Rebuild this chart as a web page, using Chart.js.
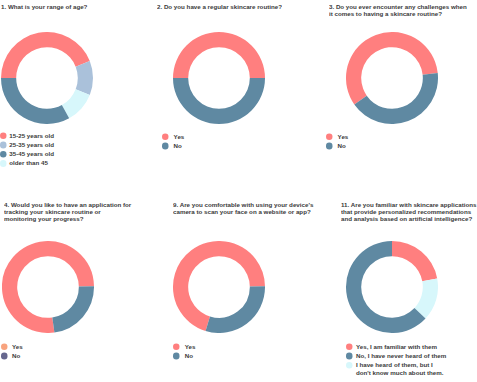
<!DOCTYPE html>
<html>
<head>
<meta charset="utf-8">
<script src="https://cdn.jsdelivr.net/npm/chart.js@4"></script>
<style>
  body { margin: 0; background: #fff; }
  #wrap { position: relative; width: 477px; height: 382px; overflow: hidden; }
  /* text is laid out at 2x and scaled down so the small size stays fractional */
  .title, .legend { position: absolute; font-family: "Liberation Sans", Arial, sans-serif; font-weight: bold; font-size: 12.4px; color: #3a3a3a; white-space: nowrap; transform: scale(0.5); transform-origin: 0 0; }
  .title { line-height: 14.6px; }
  .legend .item { position: relative; line-height: 15.4px; margin-bottom: 3px; }
  .legend .dot { position: absolute; top: 1px; left: 0; width: 13.4px; height: 13.4px; border-radius: 50%; }
  canvas { position: absolute; }
</style>
</head>
<body>
<div id="wrap"></div>
<script>
const red = '#ff7f7f';
const steel = '#5f89a2';
const paleBlue = '#aac1da';
const paleCyan = '#d7f7fb';

// question titles, one entry per line
const titleAge = ['1. What is your range of age?'];
const titleRoutine = ['2. Do you have a regular skincare routine?'];
const titleChallenges = ['3. Do you ever encounter any challenges when', 'it comes to having a skincare routine?'];
const titleApp = ['4. Would you like to have an application for', 'tracking your skincare routine or', 'monitoring your progress?'];
const titleCamera = ["9. Are you comfortable with using your device's", 'camera to scan your face on a website or app?'];
const titleAi = ['11. Are you familiar with skincare applications', 'that provide personalized recommendations', 'and analysis based on artificial intelligence?'];

// answers (legend order) and share of responses in %
const ageLabels = ['15-25 years old', '25-35 years old', '35-45 years old', 'older than 45'];
const ageValues = [44, 12, 33, 11];
const yesNoLabels = ['Yes', 'No'];
const routineValues = [50, 50];
const challengesValues = [58, 42];
const appValues = [77, 23];
const cameraValues = [70, 30];
const aiLabels = ['Yes, I am familiar with them', 'No, I have never heard of them', ['I have heard of them, but I', "don't know much about them."]];
const aiValues = [22, 63, 15];

document.addEventListener("DOMContentLoaded", () => {
    const wrap = document.getElementById("wrap");

    const panels = [
        { title: titleAge, tx: 1, ty: 2.7, labels: ageLabels, values: ageValues,
          colors: [red, paleBlue, steel, paleCyan], order: [0, 1, 3, 2], rotation: -90,
          cx: 0.5, cy: 32, lx: 0, lt: 9.3, ly: 132.2 },
        { title: titleRoutine, tx: 156.5, ty: 2.7, labels: yesNoLabels, values: routineValues,
          colors: [red, steel], order: [0, 1], rotation: -90,
          cx: 173, cy: 32, lx: 161.7, lt: 173.3, ly: 133 },
        { title: titleChallenges, tx: 329, ty: 2.7, labels: yesNoLabels, values: challengesValues,
          colors: [red, steel], order: [0, 1], rotation: -125,
          cx: 345.5, cy: 32, lx: 325.7, lt: 337.3, ly: 133 },
        { title: titleApp, tx: 4, ty: 201.3, labels: yesNoLabels, values: appValues,
          colors: [red, steel], legendColors: ['#f8a37e', '#66678e'], order: [0, 1], rotation: 172,
          cx: 1.5, cy: 241, lx: 1.3, lt: 12.3, ly: 342.9 },
        { title: titleCamera, tx: 173.3, ty: 201.3, labels: yesNoLabels, values: cameraValues,
          colors: [red, steel], order: [0, 1], rotation: 197,
          cx: 173, cy: 241, lx: 173.3, lt: 185, ly: 342.9 },
        { title: titleAi, tx: 340.7, ty: 201.3, labels: aiLabels, values: aiValues,
          colors: [red, steel, paleCyan], order: [0, 2, 1], rotation: 0,
          cx: 346, cy: 241, lx: 345.7, lt: 355.7, ly: 342.9 }
    ];

    const drawPanel = (p) => {
        const title = document.createElement("div");
        title.className = "title";
        title.style.left = p.tx + "px";
        title.style.top = p.ty + "px";
        title.innerHTML = p.title.join("<br>");
        wrap.appendChild(title);

        const canvas = document.createElement("canvas");
        canvas.width = 92;
        canvas.height = 92;
        canvas.style.left = p.cx + "px";
        canvas.style.top = p.cy + "px";
        wrap.appendChild(canvas);

        new Chart(canvas.getContext('2d'), {
            type: 'doughnut',
            data: {
                labels: p.order.map(i => p.labels[i]),
                datasets: [{
                    data: p.order.map(i => p.values[i]),
                    backgroundColor: p.order.map(i => p.colors[i]),
                    borderWidth: 0,
                    hoverOffset: 0,
                }],
            },
            options: {
                responsive: false,
                animation: false,
                cutout: '67%',
                rotation: p.rotation,
                layout: { padding: 0 },
                plugins: {
                    legend: { display: false },
                    tooltip: { enabled: false }
                }
            }
        });

        const legend = document.createElement("div");
        legend.className = "legend";
        legend.style.left = p.lx + "px";
        legend.style.top = p.ly + "px";
        const legendColors = p.legendColors || p.colors;
        p.labels.forEach((label, i) => {
            const item = document.createElement("div");
            item.className = "item";
            item.style.paddingLeft = (p.lt - p.lx) * 2 + "px";
            const dot = document.createElement("span");
            dot.className = "dot";
            dot.style.background = legendColors[i];
            item.appendChild(dot);
            const text = document.createElement("span");
            text.innerHTML = [].concat(label).join("<br>");
            item.appendChild(text);
            legend.appendChild(item);
        });
        wrap.appendChild(legend);
    };

    panels.forEach(drawPanel);
});
</script>
</body>
</html>
